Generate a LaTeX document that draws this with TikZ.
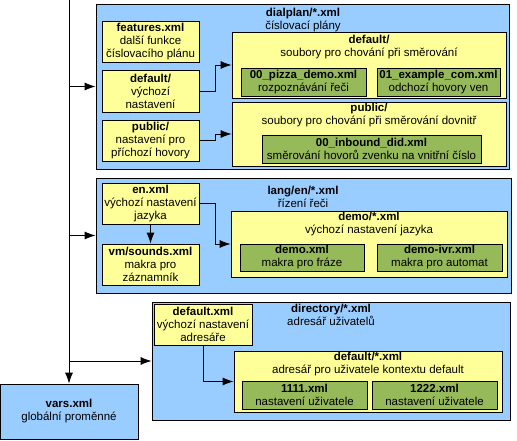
\documentclass[tikz,border=0pt]{standalone}
\usepackage{fontspec}
\setmainfont{Liberation Sans}
\usetikzlibrary{arrows.meta}

\definecolor{dirblue}{RGB}{153,204,255}
\definecolor{fileyellow}{RGB}{255,255,153}
\definecolor{itemgreen}{RGB}{150,185,90}

\begin{document}
\begin{tikzpicture}
	[
		x=1pt, y=-1pt,
		box/.style = {shape=rectangle, draw=black, line width=0.8pt, anchor=center, align=center, inner sep=0pt, font=\fontsize{11.5}{13}\selectfont},
		dirbox/.style = {box, fill=dirblue},
		filebox/.style = {box, fill=fileyellow},
		smallfile/.style = {filebox, minimum width=97pt, minimum height=41pt},
		leaf/.style = {box, fill=itemgreen, minimum width=125pt, minimum height=28pt},
		title/.style = {align=center, inner sep=0pt, font=\fontsize{11.5}{13}\selectfont},
		link/.style = {line width=0.8pt, -{Latex[length=11pt,width=8pt]}}
	]
	
	\useasboundingbox (0,0) rectangle (517,441);
	
	% dialplan
	\node [dirbox, minimum width=413pt, minimum height=165pt] (dialplan) at (302.5,86.5) {};
	\node [title] (dialplan-t) at (303,20.5) {\textbf{dialplan/*.xml}\\číslovací plány};
	
	\node [smallfile] (features) at (150.5,41.5) {\textbf{features.xml}\\další funkce\\číslovacího plánu};
	\node [smallfile, minimum height=42pt] (dp-default-s) at (150.5,91) {\textbf{default/}\\výchozí\\nastavení};
	\node [smallfile] (dp-public-s) at (150.5,140.5) {\textbf{public/}\\nastavení pro\\příchozí hovory};
	
	\node [filebox, minimum width=274pt, minimum height=66pt] (dp-default) at (369,65) {};
	\node [title] (dp-default-t) at (369,47) {\textbf{default/}\\soubory pro chování při směrování};
	\node [leaf] (pizza) at (303.5,82) {\textbf{00\_pizza\_demo.xml}\\rozpoznávání řeči};
	\node [leaf, minimum width=123pt] (example) at (438.5,82) {\textbf{01\_example\_com.xml}\\odchozí hovory ven};
	
	\node [filebox, minimum width=274pt, minimum height=64pt] (dp-public) at (369,134) {};
	\node [title] (dp-public-t) at (369,115.5) {\textbf{public/}\\soubory pro chování při směrování dovnitř};
	\node [leaf, minimum width=219pt] (inbound) at (371.5,149) {\textbf{00\_inbound\_did.xml}\\směrování hovorů zvenku na vnitřní číslo};
	
	% lang
	\node [dirbox, minimum width=415pt, minimum height=115pt] (lang) at (303.5,235.5) {};
	\node [title] (lang-t) at (303,196.5) {\textbf{lang/en/*.xml}\\řízení řeči};
	
	\node [smallfile] (en) at (150.5,203.5) {\textbf{en.xml}\\výchozí nastavení\\jazyka};
	\node [smallfile] (sounds) at (150.5,264.5) {\textbf{vm/sounds.xml}\\makra pro\\záznamník};
	
	\node [filebox, minimum width=276pt, minimum height=66pt] (demo) at (369,244) {};
	\node [title] (demo-t) at (369,224.5) {\textbf{demo/*.xml}\\výchozí nastavení jazyka};
	\node [leaf, minimum width=124pt, minimum height=27pt] (demo-xml) at (302,257.5) {\textbf{demo.xml}\\makra pro fráze};
	\node [leaf, minimum height=27pt] (demo-ivr) at (439.5,257.5) {\textbf{demo-ivr.xml}\\makra pro automat};
	
	% directory
	\node [dirbox, minimum width=358pt, minimum height=118pt] (directory) at (331,361) {};
	\node [title] (directory-t) at (331,314.5) {\textbf{directory/*.xml}\\adresář uživatelů};
	
	\node [smallfile, minimum width=98pt] (dir-default-s) at (203,324.5) {\textbf{default.xml}\\výchozí nastavení\\adresáře};
	
	\node [filebox, minimum width=268pt, minimum height=61pt] (dir-default) at (368,381.5) {};
	\node [title] (dir-default-t) at (368,364.5) {\textbf{default/*.xml}\\adresář pro uživatele kontextu default};
	\node [leaf] (user-a) at (304.5,395) {\textbf{1111.xml}\\nastavení uživatele};
	\node [leaf] (user-b) at (434.5,395) {\textbf{1222.xml}\\nastavení uživatele};
	
	% vars
	\node [dirbox, minimum width=138pt, minimum height=55pt] (vars) at (69,411.5) {\textbf{vars.xml}\\globální proměnné};
	
	% connectors
	\coordinate (root) at (69,0);
	\draw [link] (root) -- (vars.north);
	\draw [link] (vars.north |- dialplan.west) -- (dialplan.west);
	\draw [link] (vars.north |- lang.west) -- (lang.west);
	\draw [link] (vars.north |- directory.west) -- (directory.west);
	
	\draw [link] (dp-default-s.east) -- ++(16,0) |- (dp-default.west);
	\draw [link] (dp-public-s.east) -- ++(16,0) |- (dp-public.west);
	\draw [link] (en.east) -- ++(16,0) |- (demo.west);
	\draw [link] (en.south) -- (sounds.north);
	\draw [link] (dir-default-s.south) |- (dir-default.west);
	
\end{tikzpicture}
\end{document}
